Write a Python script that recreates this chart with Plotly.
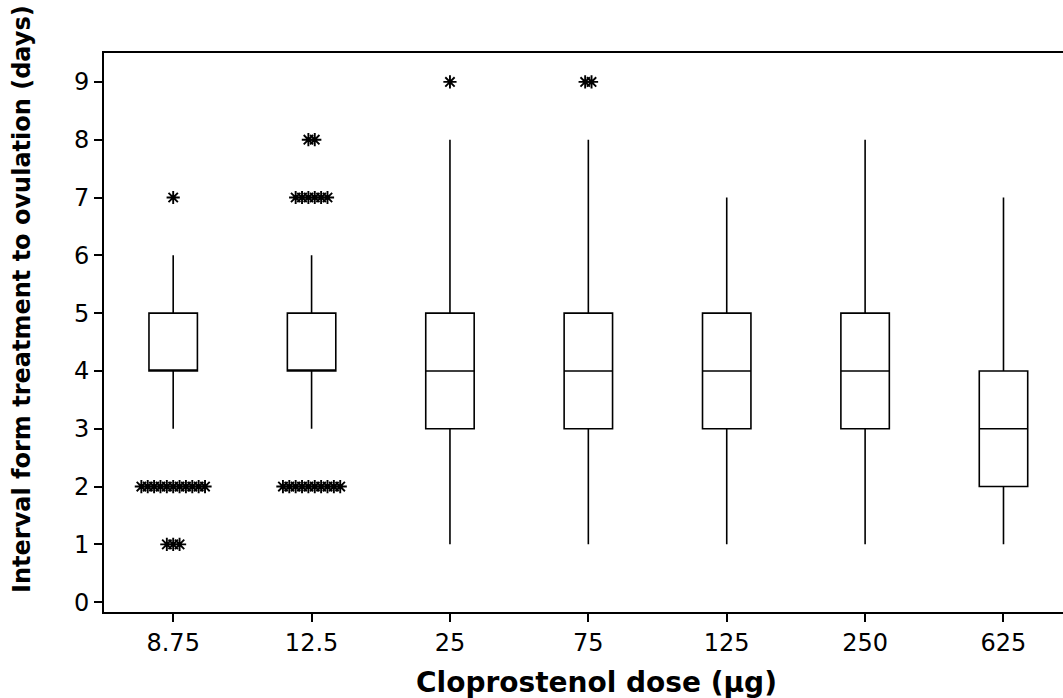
import plotly.graph_objects as go

doses = ["8.75", "12.5", "25", "75", "125", "250", "625"]
q1 = [4, 4, 3, 3, 3, 3, 2]
median = [4, 4, 4, 4, 4, 4, 3]
q3 = [5, 5, 5, 5, 5, 5, 4]
whisker_low = [3, 3, 1, 1, 1, 1, 1]
whisker_high = [6, 6, 8, 8, 7, 8, 7]

# outliers: dose index, value, number of observations
outlier_dose = [0, 0, 0, 1, 1, 1, 2, 3]
outlier_value = [7, 2, 1, 8, 7, 2, 9, 9]
outlier_count = [1, 11, 3, 2, 6, 10, 1, 2]

x_title = "Cloprostenol dose (µg)"
y_title = "Interval form treatment to ovulation (days)"

positions = list(range(len(doses)))

fig = go.Figure()
fig.add_trace(go.Box(
    x=positions, q1=q1, median=median, q3=q3,
    lowerfence=whisker_low, upperfence=whisker_high,
    width=0.35, fillcolor="white",
    line=dict(color="black", width=1.6),
    whiskerwidth=0, boxpoints=False, showlegend=False, hoverinfo="skip",
))

step = 0.046
ox, oy = [], []
for d, v, n in zip(outlier_dose, outlier_value, outlier_count):
    for i in range(n):
        ox.append(positions[d] + (i - (n - 1) / 2) * step)
        oy.append(v)

fig.add_trace(go.Scatter(
    x=ox, y=oy, mode="markers", showlegend=False, hoverinfo="skip",
    marker=dict(symbol="asterisk-open", size=11, color="black",
                line=dict(color="black", width=1.9)),
))

tick_font = dict(family="DejaVu Sans", size=24, color="black")
fig.update_layout(
    width=1063, height=698,
    margin=dict(l=104, r=0, t=53, b=86),
    plot_bgcolor="white", paper_bgcolor="white",
    xaxis=dict(
        range=[-0.5, 6.43], tickmode="array", tickvals=positions, ticktext=doses,
        showline=True, linecolor="black", linewidth=2, mirror=True,
        ticks="outside", ticklen=8, tickwidth=1.5, tickcolor="black",
        showgrid=False, zeroline=False, tickfont=tick_font,
    ),
    yaxis=dict(
        range=[-0.17, 9.5], tickmode="linear", tick0=0, dtick=1,
        showline=True, linecolor="black", linewidth=2,
        ticks="outside", ticklen=8, tickwidth=1.5, tickcolor="black",
        showgrid=False, zeroline=False, tickfont=tick_font,
    ),
    annotations=[
        dict(text="<b>" + x_title + "</b>", xref="paper", yref="paper",
             x=0.514, y=-0.127, xanchor="center", yanchor="middle", showarrow=False,
             font=dict(family="DejaVu Sans", size=28, color="black")),
        dict(text="<b>" + y_title + "</b>", xref="paper", yref="paper",
             x=-0.0855, y=0.56, xanchor="center", yanchor="middle", showarrow=False,
             textangle=-90,
             font=dict(family="DejaVu Sans", size=24, color="black")),
    ],
)

fig.write_html("out.html", config={"displayModeBar": False},
               post_script="document.body.style.margin='0';")
